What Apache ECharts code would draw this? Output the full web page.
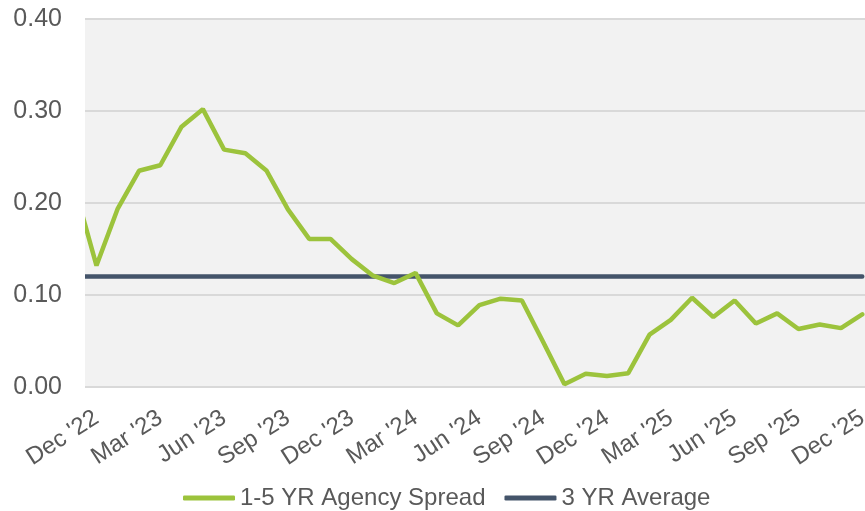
<!DOCTYPE html>
<html>
<head>
<meta charset="utf-8">
<script src="https://cdn.jsdelivr.net/npm/echarts@6/dist/echarts.min.js"></script>
<style>
html,body{margin:0;padding:0;background:#fff;}
#chart{width:865px;height:511px;}
</style>
</head>
<body>
<div id="chart"></div>
<script>
// Month index 0 = Dec '22; index -1 = Nov '22 (partly visible at left edge)
const monthIndex = [-1,0,1,2,3,4,5,6,7,8,9,10,11,12,13,14,15,16,17,18,19,20,21,22,23,24,25,26,27,28,29,30,31,32,33,34,35,36];
const spreadValues = [0.215,0.132,0.194,0.235,0.241,0.283,0.302,0.258,0.254,0.235,0.193,0.161,0.161,0.139,0.121,0.113,0.124,0.080,0.067,0.089,0.096,0.094,0.049,0.003,0.0145,0.012,0.015,0.057,0.073,0.097,0.076,0.094,0.069,0.080,0.063,0.068,0.064,0.079];
const averageValue = 0.12;
const tickIndex = [0,3,6,9,12,15,18,21,24,27,30,33,36];
const tickLabels = ["Dec '22","Mar '23","Jun '23","Sep '23","Dec '23","Mar '24","Jun '24","Sep '24","Dec '24","Mar '25","Jun '25","Sep '25","Dec '25"];
const yTicks = [0,0.1,0.2,0.3,0.4];
const seriesNames = ['1-5 YR Agency Spread','3 YR Average'];

const spreadData = monthIndex.map((m,i)=>[m, spreadValues[i]]);
const avgData = monthIndex.map(m=>[m, averageValue]);
const FONT = "'Liberation Sans', Arial, sans-serif";

const chart = echarts.init(document.getElementById('chart'), null, {renderer:'canvas'});
chart.setOption({
  animation:false,
  backgroundColor:'#ffffff',
  grid:{left:85,right:0,top:19,bottom:124,show:true,backgroundColor:'#f2f2f2',borderWidth:0,outerBoundsMode:'none'},
  graphic:[{type:'rect',shape:{x:68,y:150,width:17,height:150},style:{fill:'#ffffff'},z:100}],
  legend:{
    top:481,left:178,
    itemWidth:52,itemHeight:5,itemGap:19,
    icon:'roundRect',
    textStyle:{color:'#595959',fontSize:24,fontFamily:FONT},
    data:[{name:seriesNames[0]},{name:seriesNames[1]}]
  },
  xAxis:{
    type:'value',min:-0.54,max:36.13,
    axisLine:{show:false},axisTick:{show:false},splitLine:{show:false},
    axisLabel:{
      customValues:tickIndex,
      rotate:33,margin:29,
      color:'#595959',fontSize:24,fontFamily:FONT,
      formatter:(v)=>{const k=tickIndex.indexOf(Math.round(v));return k>=0?tickLabels[k]:'';}
    }
  },
  yAxis:{
    type:'value',min:yTicks[0],max:yTicks[yTicks.length-1],interval:0.1,
    axisLine:{show:false},axisTick:{show:false},
    splitLine:{lineStyle:{color:'#d9d9d9',width:2}},
    axisLabel:{color:'#595959',fontSize:25,fontFamily:FONT,margin:23,formatter:(v)=>v.toFixed(2)}
  },
  series:[
    {name:seriesNames[0],type:'line',data:spreadData,symbol:'none',clip:true,
     lineStyle:{color:'#9cc33c',width:4.5,cap:'round'},itemStyle:{color:'#9cc33c'},z:3},
    {name:seriesNames[1],type:'line',data:avgData,symbol:'none',clip:true,
     lineStyle:{color:'#44546a',width:4.5,cap:'round'},itemStyle:{color:'#44546a'},z:2}
  ]
});
</script>
</body>
</html>
